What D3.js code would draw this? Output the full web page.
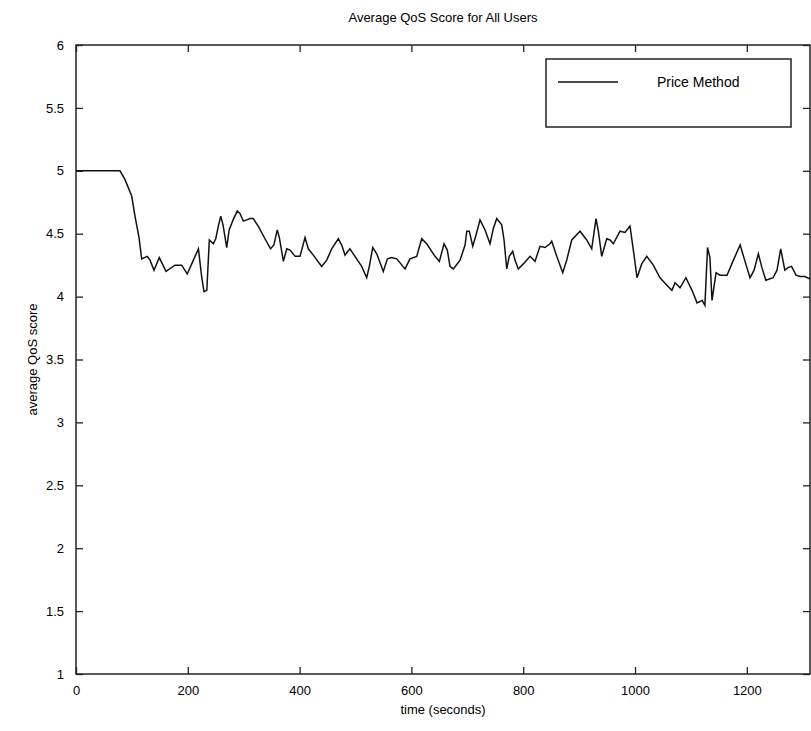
<!DOCTYPE html>
<html>
<head>
<meta charset="utf-8">
<script src="https://cdn.jsdelivr.net/npm/d3@7"></script>
<style>
body{margin:0;background:#fff;}
text{font-family:"Liberation Sans",Arial,sans-serif;fill:#000;}
</style>
</head>
<body>
<svg width="811" height="731"></svg>
<script>
// time (seconds)
var times = [0,78.7,87.7,99.6,105.5,112.7,117.5,127.5,132.4,139.5,149,161,177,189,199,210,219,225,229,234,
  238.5,245.6,250,254.6,258.9,263,269.6,274,281,288.5,293.4,299.3,305.4,311,317,326,338,348,354,360,
  363.7,371,377,383,392,400.7,409.7,415.6,424.5,439.5,448.5,457.4,469.2,475.3,481.2,490,499,511,520,524.7,
  530.8,538,549.7,557,564.7,573.7,588.6,597.5,609.5,618.4,627.4,642.2,650,658.3,664.2,669,675,687,696,699,
  703.6,709.7,715.6,722.7,731.7,740.6,746.5,752.6,761.5,765.7,770.5,775,781.2,785.3,791.2,800.2,812.2,821.1,830,839,
  848,851,860,870.7,877.8,886.8,901.6,913.6,922.5,930.2,934.4,940.4,949.4,955.3,961.2,973.2,982,991,997,1003.6,
  1012,1021,1032.7,1044.7,1057,1066,1071.6,1080.5,1091,1102,1111,1120,1125,1129.7,1134,1137.7,1145,1152,1164.6,1175,
  1188,1196.8,1205.7,1213,1220.6,1227,1234,1247,1254,1260.6,1268,1273.7,1280,1288,1295,1304,1313];
// average QoS score, price method
var scores = [5,5,4.93,4.8,4.64,4.47,4.3,4.32,4.29,4.21,4.31,4.2,4.25,4.25,4.18,4.29,4.38,4.15,4.04,4.05,
  4.45,4.42,4.46,4.56,4.64,4.57,4.39,4.53,4.61,4.68,4.66,4.6,4.61,4.62,4.62,4.56,4.46,4.38,4.41,4.53,
  4.47,4.28,4.38,4.37,4.32,4.32,4.47,4.38,4.33,4.24,4.29,4.38,4.46,4.41,4.33,4.38,4.32,4.24,4.15,4.24,
  4.39,4.34,4.2,4.3,4.31,4.3,4.22,4.3,4.32,4.46,4.42,4.32,4.28,4.42,4.37,4.24,4.22,4.29,4.41,4.52,
  4.52,4.4,4.49,4.61,4.53,4.42,4.54,4.62,4.57,4.45,4.22,4.32,4.36,4.29,4.22,4.26,4.32,4.28,4.4,4.39,
  4.42,4.44,4.32,4.19,4.29,4.45,4.52,4.45,4.38,4.62,4.52,4.32,4.46,4.45,4.42,4.52,4.51,4.56,4.37,4.15,
  4.26,4.32,4.25,4.15,4.09,4.05,4.11,4.07,4.15,4.05,3.95,3.97,3.93,4.39,4.31,3.97,4.19,4.17,4.17,4.28,
  4.41,4.28,4.15,4.21,4.34,4.23,4.13,4.15,4.21,4.38,4.21,4.23,4.24,4.17,4.16,4.16,4.14];
var xTicks = [0,200,400,600,800,1000,1200];
var yTicks = [1,1.5,2,2.5,3,3.5,4,4.5,5,5.5,6];
var seriesName = "Price Method";

var svg = d3.select("svg");
var plotL = 76, plotR = 810, plotT = 45, plotB = 674;

var x = d3.scaleLinear().domain([0,1313]).range([plotL,plotR]);
var y = d3.scaleLinear().domain([1,6]).range([plotB,plotT]);

// box + inward ticks
svg.append("rect").attr("x",plotL).attr("y",plotT).attr("width",plotR-plotL).attr("height",plotB-plotT)
  .attr("fill","none").attr("stroke","#222").attr("stroke-width",1.5);

var g = svg.append("g");
g.append("g").attr("transform","translate(0,"+plotB+")")
  .call(d3.axisBottom(x).tickValues(xTicks).tickSizeInner(-7).tickSizeOuter(0).tickPadding(12).tickFormat(d3.format("d")));
g.append("g").attr("transform","translate(0,"+plotT+")")
  .call(d3.axisTop(x).tickValues(xTicks).tickSizeInner(-7).tickSizeOuter(0).tickFormat(""));
g.append("g").attr("transform","translate("+plotL+",0)")
  .call(d3.axisLeft(y).tickValues(yTicks).tickSizeInner(-7).tickSizeOuter(0).tickPadding(12).tickFormat(d3.format("")));
g.append("g").attr("transform","translate("+plotR+",0)")
  .call(d3.axisRight(y).tickValues(yTicks).tickSizeInner(-7).tickSizeOuter(0).tickFormat(""));
g.selectAll(".domain").remove();
g.selectAll(".tick line").attr("stroke","#222").attr("stroke-width",1.3);
g.selectAll(".tick text").attr("font-size",13).attr("font-family","Liberation Sans, Arial, sans-serif");

// the line
var pts = times.map(function(t,i){return [t,scores[i]];});
svg.append("path").datum(pts)
  .attr("fill","none").attr("stroke","#111").attr("stroke-width",1.5)
  .attr("d",d3.line().x(d=>x(d[0])).y(d=>y(d[1])));

// titles
svg.append("text").attr("x",(plotL+plotR)/2).attr("y",22).attr("text-anchor","middle")
  .attr("font-size",13).text("Average QoS Score for All Users");
svg.append("text").attr("x",(plotL+plotR)/2).attr("y",714).attr("text-anchor","middle")
  .attr("font-size",13).text("time (seconds)");
svg.append("text").attr("transform","translate(37,"+((plotT+plotB)/2)+") rotate(-90)")
  .attr("text-anchor","middle").attr("font-size",13).text("average QoS score");

// legend
var lg = svg.append("g");
lg.append("rect").attr("x",546).attr("y",59).attr("width",245).attr("height",68)
  .attr("fill","#fff").attr("stroke","#222").attr("stroke-width",1.5);
lg.append("line").attr("x1",558).attr("x2",618).attr("y1",82).attr("y2",82)
  .attr("stroke","#111").attr("stroke-width",1.5);
lg.append("text").attr("x",657).attr("y",87).attr("font-size",14).text(seriesName);
</script>
</body>
</html>
